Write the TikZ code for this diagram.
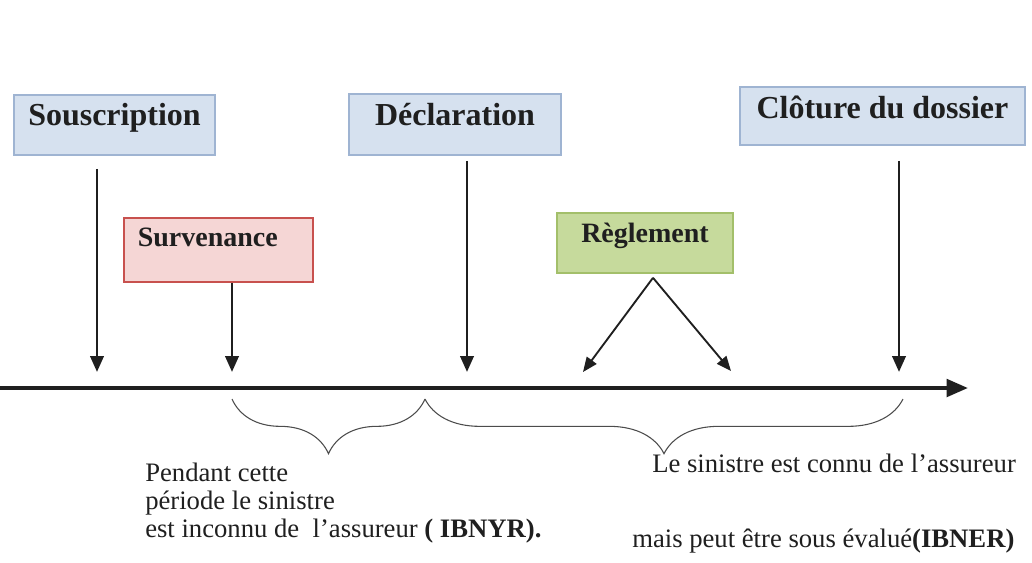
\documentclass[tikz,border=0pt]{standalone}
\usepackage{fontspec}
\setmainfont{Liberation Serif}
\usepackage{xcolor}
\usepackage{tikz}
\usetikzlibrary{arrows.meta}
\usetikzlibrary{decorations.pathreplacing}
\definecolor{blueFill}{HTML}{D6E1EF}
\definecolor{blueLine}{HTML}{9FB4D2}
\definecolor{pinkFill}{HTML}{F5D6D5}
\definecolor{pinkLine}{HTML}{C8514E}
\definecolor{greenFill}{HTML}{C6DA9C}
\definecolor{greenLine}{HTML}{A3BF6A}
\colorlet{ink}{black!88}
\tikzset{
  % node options
  stage/.style={rectangle,draw,line width=1.2pt,inner sep=0pt,text=ink,
    font=\bfseries\fontsize{24}{24}\selectfont,anchor=base},
  stageBlue/.style={stage,fill=blueFill,draw=blueLine},
  stagePink/.style={stage,fill=pinkFill,draw=pinkLine,font=\bfseries\fontsize{21}{21}\selectfont},
  stageGreen/.style={stage,fill=greenFill,draw=greenLine,font=\bfseries\fontsize{21}{21}\selectfont},
  comment/.style={align=left,inner sep=0pt,text=ink,font=\fontsize{20}{21}\selectfont,anchor=base west},
  % path options
  event/.style={-{Triangle[length=12pt,width=10pt]},line width=2.2pt,draw=ink},
  payment/.style={event,line width=1.4pt,-{Triangle[length=11pt,width=9pt]}},
  axis/.style={-{Triangle[length=16pt,width=13pt]},line width=3pt,draw=ink},
  period/.style={decorate,decoration={brace,mirror,amplitude=41pt},line width=0.8pt,draw=black!70},
}
\begin{document}
\begin{tikzpicture}[x=0.75pt,y=-0.75pt]
  \useasboundingbox (0,0) rectangle (1032,562);
  % stages of the claim
  \node[stageBlue,minimum width=150.75pt,text height=22.5pt,text depth=22.5pt] (souscription) at (114.5,125) {Souscription};
  \node[stageBlue,minimum width=159pt,text height=23.25pt,text depth=22.5pt] (declaration) at (455,125) {Déclaration};
  \node[stageBlue,minimum width=213.75pt,text height=23.25pt,text depth=20.25pt] (cloture) at (882.5,118) {Clôture du dossier};
  \node[stagePink,minimum width=141.75pt,text height=21pt,text depth=27pt] (survenance) at (218.5,246) {Survenance\hspace*{16pt}};
  \node[stageGreen,minimum width=132pt,text height=21.75pt,text depth=23.25pt] (reglement) at (645,242) {Règlement};
  % time axis
  \coordinate (origin) at (0,388);
  \coordinate (future) at (968,388);
  \coordinate (tSous) at (97,372);
  \coordinate (tSurv) at (232,372);
  \coordinate (tDecl) at (467,372);
  \coordinate (tRegA) at (583,372);
  \coordinate (tRegB) at (731,371);
  \coordinate (tClot) at (899,372);
  \draw[axis] (origin) -- (future);
  \draw[event,shorten <=9.75pt] (souscription.south -| tSous) -- (tSous);
  \draw[event] (survenance.south -| tSurv) -- (tSurv);
  \draw[event,shorten <=3.75pt] (declaration.south -| tDecl) -- (tDecl);
  \draw[event,shorten <=11.25pt] (cloture.south -| tClot) -- (tClot);
  \draw[payment] ([xshift=6pt,yshift=-3pt]reglement.south) -- (tRegA);
  \draw[payment] ([xshift=6pt,yshift=-3pt]reglement.south) -- (tRegB);
  % periods
  \coordinate (bSurv) at (232,399);
  \coordinate (bDecl) at (425,399);
  \coordinate (bClot) at (903,399);
  \draw[period] (bSurv) -- (bDecl);
  \draw[period] (bDecl) -- (bClot);
  \node[comment] (ibnyr) at (145,537) {Pendant cette\\période le sinistre\\est inconnu de \ l’assureur \textbf{( IBNYR).}};
  \node[comment] (known) at (652,472) {Le sinistre est connu de l’assureur};
  \node[comment] (ibner) at (632,547) {mais peut être sous évalué\textbf{(IBNER)}};
\end{tikzpicture}
\end{document}
